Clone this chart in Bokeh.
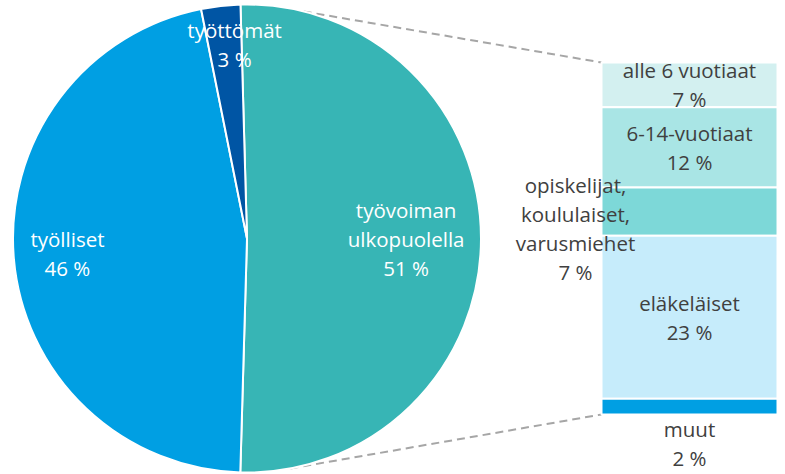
import math
from bokeh.plotting import figure
from bokeh.models import Range1d, ColumnDataSource
from bokeh.embed import file_html
from bokeh.resources import INLINE
from bokeh.core.properties import value

# ---------------- data ----------------
pie_categories = ["työvoiman ulkopuolella", "työlliset", "työttömät"]
pie_values = [50.9, 46.4, 2.7]
pie_label_lines = [["työvoiman", "ulkopuolella", "51 %"],
                   ["työlliset", "46 %"],
                   ["työttömät", "3 %"]]

bar_categories = ["alle 6 vuotiaat", "6-14-vuotiaat",
                  "opiskelijat, koululaiset, varusmiehet", "eläkeläiset", "muut"]
bar_values = [6.5, 11.6, 7.0, 23.6, 2.3]
bar_label_lines = [["alle 6 vuotiaat", "7 %"],
                   ["6-14-vuotiaat", "12 %"],
                   ["opiskelijat,", "koululaiset,", "varusmiehet", "7 %"],
                   ["eläkeläiset", "23 %"],
                   ["muut", "2 %"]]

# ---------------- styles / layout ----------------
pie_colors = ["#37B5B5", "#009FE3", "#0055A4"]
bar_colors = ["#D3F0F0", "#A9E5E5", "#7DD8D8", "#C6ECFB", "#009FE3"]
pie_label_frac = [0.68, 0.77, 0.83]
pie_label_nudge_deg = [0.0, 0.0, -2.8]
bar_label_mode = ["inside", "inside", "left", "inside", "below"]

W, H = 785, 474
CX, CY, R = 246.5, 236.0, 234.0
START_DEG = 91.6            # first slice starts slightly left of 12 o'clock
BAR_L, BAR_R, BAR_T, BAR_B = 601.0, 777.0, 412.0, 60.0
LINE_H = 29.0
FONT = value("Open Sans")
FS = "20.5px"

p = figure(width=W, height=H, x_range=Range1d(0, W), y_range=Range1d(0, H),
           output_backend="svg", toolbar_location=None, min_border=0,
           x_axis_location=None, y_axis_location=None)
p.grid.visible = False
p.outline_line_color = None
p.background_fill_color = "white"
p.border_fill_color = "white"

# ---------------- pie angles ----------------
total = sum(pie_values)
starts, ends, mids = [], [], []
a = START_DEG
for v in pie_values:
    b = a - v / total * 360.0
    starts.append(math.radians(b))
    ends.append(math.radians(a))
    mids.append((a + b) / 2)
    a = b

# ---------------- connector lines ----------------
top_ang = math.radians(90 - 14)
bot_ang = math.radians(-90 + 10.7)
p.line([CX + R * math.cos(top_ang), BAR_L], [CY + R * math.sin(top_ang), BAR_T],
       line_color="#A6A6A6", line_width=2, line_dash="8 5")
p.line([CX + R * math.cos(bot_ang), BAR_L], [CY + R * math.sin(bot_ang), BAR_B],
       line_color="#A6A6A6", line_width=2, line_dash="8 5")

pie_src = ColumnDataSource(dict(start=starts, end=ends, color=pie_colors, cat=pie_categories))
p.wedge(x=CX, y=CY, radius=R, start_angle="start", end_angle="end",
        direction="anticlock", fill_color="color", line_color="white",
        line_width=2, source=pie_src)

# ---------------- bar ----------------
scale = (BAR_T - BAR_B) / sum(bar_values)
tops, bots = [], []
cum = 0.0
for v in bar_values:
    tops.append(BAR_T - cum * scale)
    cum += v
    bots.append(BAR_T - cum * scale)
bar_src = ColumnDataSource(dict(top=tops, bottom=bots, left=[BAR_L] * len(bar_values),
                                right=[BAR_R] * len(bar_values), color=bar_colors,
                                cat=bar_categories))
p.quad(left="left", right="right", top="top", bottom="bottom", fill_color="color",
       line_color="white", line_width=2, source=bar_src)

# ---------------- labels ----------------
tx, ty, tt, tc = [], [], [], []


def add_block(lines, x, ymid, color):
    n = len(lines)
    for i, s in enumerate(lines):
        tx.append(x)
        ty.append(ymid + (n - 1) / 2 * LINE_H - i * LINE_H)
        tt.append(s)
        tc.append(color)


for lines, m, f, nd in zip(pie_label_lines, mids, pie_label_frac, pie_label_nudge_deg):
    ang = math.radians(m + nd)
    add_block(lines, CX + f * R * math.cos(ang), CY + f * R * math.sin(ang), "white")

for lines, mode, t, b in zip(bar_label_lines, bar_label_mode, tops, bots):
    xc = (BAR_L + BAR_R) / 2
    if mode == "inside":
        add_block(lines, xc, (t + b) / 2, "#404040")
    elif mode == "left":
        add_block(lines, BAR_L - 26, (t + b) / 2 - 17, "#404040")
    else:
        add_block(lines, xc, b - 28.5, "#404040")

p.text(x=tx, y=ty, text=tt, text_color=tc, text_font=FONT, text_font_size=FS,
       text_align="center", text_baseline="middle")

open("out.html", "w").write(file_html(p, INLINE))
